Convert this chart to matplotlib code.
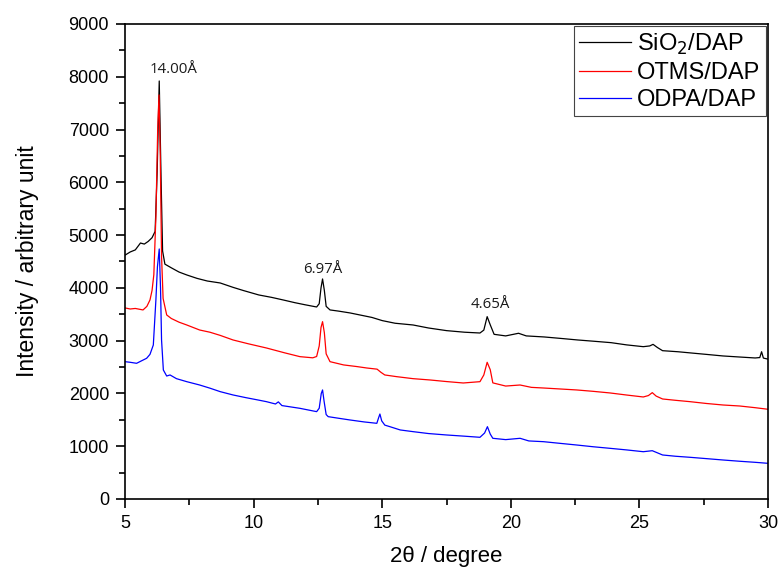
# coding: utf-8
"""XRD patterns of the DAP intercalated samples
"""
import numpy as np
import matplotlib
matplotlib.use("Agg")
import matplotlib.pyplot as plt
from matplotlib.ticker import MultipleLocator


###############################################################################
# data
two_theta_sio2 = [5.0, 5.2, 5.4, 5.6, 5.75, 5.9, 6.05, 6.17, 6.25, 6.33, 6.4,
                  6.46, 6.55, 6.8, 7.1, 7.4, 7.8, 8.2, 8.7, 9.2, 9.6, 10.2,
                  10.7, 11.15, 11.6, 12.0, 12.45, 12.55, 12.62, 12.68, 12.75,
                  12.82, 12.97, 13.3, 13.75, 14.2, 14.6, 15.0, 15.5, 16.2,
                  16.8, 17.5, 18.2, 18.8, 18.95, 19.08, 19.2, 19.35, 19.8,
                  20.3, 20.6, 21.3, 22.0, 22.6, 23.2, 23.9, 24.5, 25.15, 25.4,
                  25.53, 25.7, 25.9, 26.5, 27.0, 27.6, 28.25, 28.9, 29.5,
                  29.68, 29.75, 29.82, 30.0]
int_sio2 = [4620, 4680, 4720, 4850, 4830, 4880, 4950, 5070, 6200, 7920, 6100,
            4700, 4450, 4380, 4300, 4245, 4180, 4130, 4093, 4010, 3950, 3866,
            3820, 3771, 3720, 3680, 3638, 3700, 4000, 4169, 3950,
            3650, 3582, 3560, 3525, 3480, 3440, 3380, 3330, 3297,
            3240, 3190, 3160, 3145, 3200, 3455, 3300, 3120, 3090,
            3140, 3090, 3070, 3040, 3013, 2990, 2962, 2920, 2886, 2900,
            2930, 2870, 2810, 2790, 2767, 2740, 2710, 2690, 2672,
            2680, 2790, 2670, 2650]

two_theta_otms = [5.0, 5.2, 5.4, 5.7, 5.85, 5.97, 6.05, 6.12, 6.2, 6.27, 6.32,
                  6.37, 6.42, 6.48, 6.62, 6.8, 7.1, 7.4, 7.9, 8.3, 8.7, 9.2,
                  9.8, 10.5, 11.2, 11.8, 12.3, 12.45, 12.55, 12.62, 12.68,
                  12.75, 12.82, 12.97, 13.5, 14.0, 14.4, 14.8, 14.95, 15.1,
                  15.56, 16.2, 16.86, 17.5, 18.15, 18.8, 18.95, 19.08, 19.2,
                  19.3, 19.8, 20.36, 20.8, 21.27, 21.9, 22.56, 23.2, 23.86,
                  24.5, 25.15, 25.35, 25.5, 25.65, 25.9, 26.4, 26.97, 27.6,
                  28.25, 28.9, 29.5, 30.0]
int_otms = [3620, 3600, 3610, 3582, 3650, 3771, 3950, 4250, 5350, 7000, 7656,
            6500, 4600, 3800, 3487, 3420, 3350, 3297, 3202, 3160, 3100, 3013,
            2940, 2861, 2770, 2697, 2675, 2700, 2900, 3250, 3360,
            3150, 2750, 2602, 2540, 2510, 2482, 2460, 2400, 2350,
            2318, 2280, 2255, 2225, 2198, 2223, 2350, 2590, 2450,
            2200, 2140, 2160, 2115, 2103, 2085, 2066, 2040, 2009,
            1970, 1933, 1960, 2015, 1950, 1895, 1870, 1844, 1810,
            1781, 1762, 1730, 1700]

two_theta_odpa = [5.0, 5.2, 5.45, 5.65, 5.84, 5.97, 6.1, 6.2, 6.26, 6.33, 6.38,
                  6.42, 6.49, 6.62, 6.75, 7.0, 7.4, 7.9, 8.3, 8.7, 9.2, 9.7,
                  10.17, 10.5, 10.85, 10.96, 11.1, 11.8, 12.45, 12.55, 12.63,
                  12.68, 12.74, 12.82, 12.9, 13.3, 13.75, 14.3, 14.79, 14.86,
                  14.91, 14.98, 15.1, 15.3, 15.7, 16.2, 16.8, 17.5, 18.2,
                  18.8, 18.98, 19.09, 19.2, 19.3, 19.8, 20.36, 20.7, 21.27,
                  21.9, 22.56, 23.2, 23.86, 24.5, 25.15, 25.5, 25.9, 26.4,
                  26.97, 27.6, 28.25, 28.9, 29.5, 30.0]
int_odpa = [2602, 2590, 2571, 2620, 2666, 2740, 2918, 3771, 4400, 4737, 4000,
            3013, 2444, 2330, 2350, 2280, 2223, 2160, 2100, 2034, 1971, 1920,
            1876, 1844, 1800, 1840, 1770, 1718, 1655, 1720, 2000,
            2066, 1850, 1600, 1560, 1530, 1497, 1460, 1434, 1540,
            1610, 1480, 1400, 1370, 1308, 1276, 1240, 1213, 1190,
            1169, 1250, 1370, 1230, 1150, 1125, 1150, 1100, 1086,
            1055, 1023, 990, 960, 930, 896, 915, 834, 810,
            790, 765, 739, 715, 695, 676]

# d-spacing labels
peak_labels = ["14.00\u00c5", "6.97\u00c5", "4.65\u00c5"]
peak_x = [6.89, 12.67, 19.19]
peak_y = [8130, 4350, 3680]

###############################################################################
# plotting
plt.rcParams['font.family'] = ['Liberation Sans', 'DejaVu Sans']

fig = plt.figure(figsize=(7.79, 5.71), dpi=100)
ax = fig.add_axes([0.1605, 0.1261, 0.8254, 0.8319])

ax.plot(two_theta_sio2, int_sio2, '-', color='black', linewidth=0.9,
        label="SiO$_2$/DAP")
ax.plot(two_theta_otms, int_otms, '-', color='red', linewidth=0.9,
        label="OTMS/DAP")
ax.plot(two_theta_odpa, int_odpa, '-', color='blue', linewidth=0.9,
        label="ODPA/DAP")

for lab, px, py in zip(peak_labels, peak_x, peak_y):
    ax.text(px, py, lab, ha='center', va='center', fontsize=10.8,
            family=['Open Sans', 'DejaVu Sans'], color='#1a1a1a')

ax.set_xlim(5, 30)
ax.set_ylim(0, 9000)
ax.xaxis.set_major_locator(MultipleLocator(5))
ax.xaxis.set_minor_locator(MultipleLocator(2.5))
ax.yaxis.set_major_locator(MultipleLocator(1000))
ax.yaxis.set_minor_locator(MultipleLocator(500))
ax.tick_params(which='both', direction='out', width=1.2, top=False,
               right=False, labelsize=13, pad=5)
ax.tick_params(which='major', length=6.5)
ax.tick_params(which='minor', length=4.5)
for sp in ax.spines.values():
    sp.set_linewidth(1.2)

ax.set_xlabel("2\u03b8 / degree", fontsize=16, labelpad=10)
ax.set_ylabel("Intensity / arbitrary unit", fontsize=16.5, labelpad=21)

leg = ax.legend(loc='upper right', bbox_to_anchor=(1.0, 1.0),
                borderaxespad=0.1, fontsize=17, fancybox=False,
                framealpha=1, edgecolor='#444444', handlelength=2.2,
                handletextpad=0.25, labelspacing=0.22, borderpad=0.22)
leg.get_frame().set_linewidth(0.8)

fig.savefig("out.png", dpi=100)
